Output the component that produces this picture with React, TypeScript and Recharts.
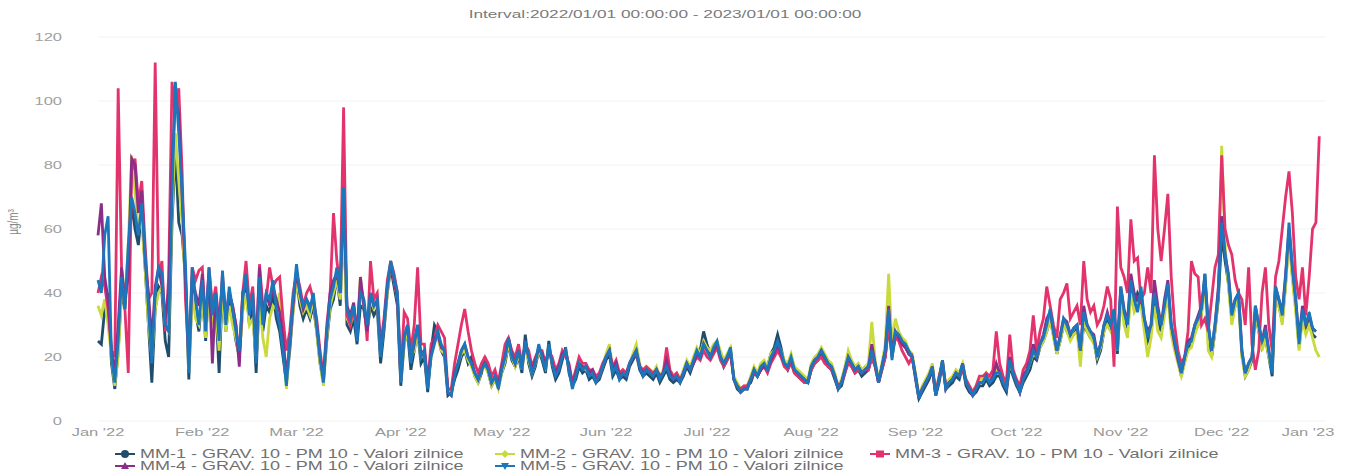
import React from 'react';
import { LineChart, Line, XAxis, YAxis, CartesianGrid } from 'recharts';

// PM10 daily averages, 2022, one value per day (index 0 = 1 Jan)
const TITLE = 'Interval:2022/01/01 00:00:00 - 2023/01/01 00:00:00';
const Y_TITLE = 'µg/m³';

const MONTH_TICKS = [0, 31, 59, 90, 120, 151, 181, 212, 243, 273, 304, 334, 365];
const MONTH_LABELS = ["Jan '22", "Feb '22", "Mar '22", "Apr '22", "May '22", "Jun '22", "Jul '22", "Aug '22", "Sep '22", "Oct '22", "Nov '22", "Dec '22", "Jan '23"];
const Y_TICKS = [0, 20, 40, 60, 80, 100, 120];

const MM1 = [
  25, 24, 35, 40, 18, 10, 22, 40, 35, 50, 68, 60, 55, 66, 48, 30, 12, 35, 42, 40, 25, 20, 62, 85, 62, 58, 45, 13, 42, 34, 28,
  40, 25, 44, 30, 36, 15, 42, 28, 38, 32, 25, 20, 35, 42, 30, 36, 15, 40, 28, 36, 34, 40, 32, 28, 20, 12, 22, 35,
  45, 36, 32, 35, 32, 36, 28, 18, 12, 25, 35, 38, 45, 36, 65, 30, 28, 32, 24, 36, 35, 28, 36, 33, 35, 18, 28, 40, 48, 42, 36,
  11, 24, 28, 16, 22, 28, 18, 20, 9, 22, 30, 28, 22, 20, 8, 9, 13, 16, 20, 22, 18, 20, 14, 12, 15, 20, 15, 11, 13, 11,
  15, 18, 24, 19, 17, 20, 15, 27, 18, 14, 17, 22, 19, 15, 25, 17, 13, 15, 19, 23, 15, 11, 13, 17, 15, 16, 13, 14, 12, 13, 16,
  19, 21, 14, 16, 13, 14, 13, 17, 19, 21, 16, 14, 15, 14, 13, 15, 12, 14, 16, 13, 12, 13, 12, 14, 17, 15, 18, 21, 22, 28,
  24, 21, 22, 24, 21, 17, 19, 22, 13, 10, 9, 10, 11, 12, 15, 14, 16, 18, 17, 21, 23, 27, 23, 18, 16, 19, 15, 14, 13, 12, 12,
  16, 18, 19, 21, 19, 17, 16, 13, 10, 11, 15, 19, 17, 15, 16, 14, 15, 16, 20, 17, 12, 16, 20, 30, 20, 26, 26, 24, 23, 21, 20,
  13, 7, 9, 11, 13, 16, 8, 12, 18, 10, 11, 12, 14, 13, 17, 11, 9, 8, 9, 11, 11, 13, 11, 12, 14, 14, 11, 9, 17, 14,
  11, 9, 12, 14, 16, 20, 19, 23, 25, 28, 32, 27, 21, 25, 30, 28, 26, 27, 29, 21, 30, 28, 26, 25, 19, 22, 28, 31, 29, 33, 21,
  40, 33, 29, 42, 36, 40, 38, 30, 25, 28, 38, 32, 28, 35, 40, 29, 24, 19, 14, 19, 23, 24, 28, 30, 34, 46, 28, 20, 28, 38,
  58, 50, 43, 32, 36, 38, 21, 14, 16, 19, 34, 28, 23, 26, 20, 14, 40, 36, 31, 43, 58, 46, 36, 23, 33, 28, 32, 27, 26, null, null,
];

const MM2 = [
  36, 33, 38, 30, 20, 11, 20, 40, 38, 55, 83, 72, 60, 62, 48, 30, 20, 35, 40, 42, 30, 28, 65, 90, 75, 62, 42, 16, 40, 32, 30,
  38, 26, 42, 30, 35, 22, 40, 28, 36, 30, 26, 20, 34, 40, 30, 32, 20, 38, 26, 20, 32, 36, 35, 40, 28, 10, 24, 34,
  44, 38, 34, 36, 33, 38, 28, 18, 11, 26, 36, 40, 44, 38, 60, 32, 30, 34, 28, 45, 36, 28, 38, 35, 36, 22, 30, 40, 50, 44, 38,
  13, 24, 28, 20, 22, 28, 20, 22, 11, 20, 25, 26, 22, 21, 10, 9, 15, 18, 21, 22, 19, 17, 14, 12, 16, 17, 15, 11, 13, 10,
  15, 19, 24, 20, 17, 21, 16, 23, 19, 15, 18, 22, 20, 17, 23, 18, 15, 17, 21, 22, 17, 11, 15, 18, 17, 16, 15, 16, 13, 14, 17,
  21, 24, 16, 18, 14, 16, 15, 18, 21, 24, 18, 15, 17, 16, 15, 17, 14, 16, 18, 15, 14, 15, 13, 16, 19, 17, 20, 23, 21, 25,
  23, 22, 24, 25, 22, 19, 21, 23, 14, 12, 10, 11, 11, 14, 17, 15, 18, 19, 17, 21, 22, 24, 22, 19, 18, 21, 17, 16, 15, 14, 13,
  18, 20, 21, 23, 21, 19, 18, 15, 11, 13, 17, 22, 19, 17, 18, 16, 17, 18, 31, 19, 13, 18, 24, 46, 24, 32, 28, 26, 25, 22, 21,
  15, 8, 11, 13, 15, 18, 9, 14, 19, 11, 13, 14, 16, 15, 18, 13, 11, 9, 11, 13, 13, 15, 13, 14, 16, 16, 13, 11, 18, 15,
  13, 10, 14, 15, 18, 21, 20, 23, 25, 28, 32, 26, 21, 25, 30, 28, 25, 27, 28, 17, 32, 28, 26, 24, 20, 23, 28, 30, 28, 32, 22,
  38, 30, 26, 40, 34, 36, 36, 28, 20, 26, 36, 28, 26, 33, 40, 27, 22, 18, 14, 18, 22, 23, 27, 30, 33, 44, 22, 20, 28, 40,
  86, 55, 42, 30, 36, 38, 20, 14, 16, 20, 34, 28, 22, 26, 20, 16, 38, 36, 30, 42, 58, 44, 34, 22, 32, 27, 30, 26, 22, 20, null,
];

const MM3 = [
  40, 45, 42, 35, 22, 20, 104, 48, 35, 15, 78, 82, 68, 75, 55, 38, 40, 112, 45, 50, 28, 45, 106, 96, 104, 78, 38, 20, 48, 44, 47,
  48, 30, 48, 36, 42, 28, 46, 32, 40, 36, 30, 20, 40, 50, 36, 42, 22, 49, 36, 38, 48, 42, 44, 45, 32, 22, 28, 40,
  46, 42, 36, 40, 42, 38, 32, 22, 14, 30, 40, 65, 50, 42, 98, 33, 30, 36, 28, 42, 38, 25, 50, 38, 40, 24, 32, 44, 50, 46, 40,
  14, 34, 32, 22, 30, 48, 24, 24, 12, 24, 26, 30, 28, 26, 10, 10, 18, 24, 30, 35, 28, 22, 18, 15, 18, 20, 18, 14, 16, 12,
  18, 24, 26, 22, 20, 24, 18, 24, 22, 17, 20, 22, 22, 18, 22, 20, 16, 18, 22, 20, 18, 12, 16, 20, 18, 18, 16, 16, 14, 15, 18,
  20, 22, 17, 19, 15, 16, 15, 18, 20, 21, 17, 16, 17, 16, 15, 16, 14, 15, 23, 16, 14, 15, 13, 15, 18, 16, 18, 20, 19, 22,
  20, 19, 21, 23, 19, 17, 19, 21, 13, 11, 10, 11, 11, 13, 15, 14, 16, 17, 15, 18, 20, 22, 20, 17, 16, 18, 15, 14, 13, 12, 12,
  16, 18, 19, 20, 18, 17, 16, 14, 11, 12, 15, 18, 17, 15, 16, 15, 16, 16, 20, 17, 12, 16, 20, 30, 22, 26, 25, 22, 20, 18, 20,
  14, 8, 10, 12, 14, 16, 9, 14, 18, 11, 12, 13, 15, 14, 16, 13, 11, 9, 11, 14, 14, 15, 14, 16, 28, 18, 14, 12, 27, 16,
  13, 11, 16, 18, 22, 33, 22, 28, 32, 42, 36, 30, 26, 38, 40, 43, 32, 34, 36, 30, 50, 38, 34, 36, 30, 32, 36, 42, 38, 17, 67,
  48, 45, 40, 63, 50, 51, 38, 40, 48, 40, 83, 60, 50, 60, 71, 45, 30, 22, 18, 20, 28, 50, 46, 45, 30, 32, 28, 38, 48, 52,
  83, 60, 55, 52, 44, 40, 38, 30, 48, 24, 16, 22, 40, 48, 30, 22, 45, 50, 60, 70, 78, 65, 45, 38, 48, 33, 45, 60, 62, 89, null,
];

const MM4 = [
  58, 68, 45, 38, 22, 15, 30, 48, 38, 45, 82, 80, 65, 72, 50, 40, 25, 42, 48, 42, 32, 40, 80, 100, 96, 70, 45, 18, 45, 40, 36,
  46, 30, 46, 18, 40, 30, 44, 32, 40, 36, 30, 17, 40, 44, 34, 38, 22, 48, 32, 40, 36, 42, 38, 34, 26, 14, 24, 36,
  47, 40, 35, 38, 36, 38, 30, 20, 13, 28, 40, 44, 46, 40, 70, 36, 33, 37, 26, 45, 36, 28, 40, 36, 37, 22, 30, 42, 49, 44, 38,
  13, 26, 30, 19, 24, 30, 21, 22, 11, 21, 26, 27, 23, 22, 9, 8, 15, 18, 22, 24, 20, 18, 15, 13, 16, 18, 16, 12, 14, 11,
  17, 20, 26, 21, 18, 22, 17, 24, 20, 16, 19, 23, 21, 17, 23, 18, 15, 17, 21, 22, 17, 11, 15, 18, 17, 17, 15, 16, 13, 14, 17,
  20, 22, 16, 18, 14, 15, 14, 18, 20, 22, 17, 15, 16, 15, 14, 16, 14, 15, 19, 15, 13, 14, 12, 15, 18, 16, 18, 21, 20, 24,
  22, 20, 22, 24, 20, 18, 20, 22, 13, 11, 9, 10, 10, 13, 16, 14, 16, 17, 16, 19, 21, 24, 21, 18, 17, 19, 16, 15, 14, 13, 12,
  17, 19, 20, 22, 20, 18, 17, 14, 10, 12, 16, 20, 18, 16, 17, 15, 16, 17, 24, 18, 12, 17, 22, 36, 21, 28, 26, 24, 23, 21, 20,
  14, 7, 10, 12, 14, 17, 8, 13, 19, 10, 12, 13, 15, 14, 18, 12, 10, 8, 10, 12, 12, 14, 12, 14, 18, 15, 12, 10, 20, 15,
  12, 9, 14, 16, 19, 24, 20, 24, 27, 32, 34, 28, 22, 27, 32, 31, 27, 29, 30, 22, 36, 30, 28, 27, 21, 24, 30, 34, 30, 34, 24,
  42, 35, 31, 46, 40, 38, 40, 32, 28, 30, 44, 36, 30, 38, 44, 30, 24, 19, 15, 20, 25, 26, 30, 33, 36, 44, 30, 22, 30, 42,
  64, 52, 46, 34, 38, 40, 22, 15, 18, 20, 36, 30, 25, 30, 22, 16, 42, 38, 34, 46, 60, 48, 38, 26, 36, 30, 33, 29, 28, null, null,
];

const MM5 = [
  44, 40, 58, 64, 20, 12, 25, 45, 35, 55, 70, 65, 58, 68, 52, 35, 18, 40, 48, 46, 30, 28, 70, 106, 90, 72, 49, 15, 48, 38, 30,
  44, 28, 48, 33, 40, 25, 47, 30, 42, 35, 28, 22, 38, 46, 33, 40, 18, 45, 30, 40, 38, 44, 35, 30, 22, 11, 25, 38,
  49, 40, 36, 38, 35, 40, 30, 20, 12, 28, 38, 42, 48, 40, 73, 35, 32, 36, 25, 40, 38, 30, 40, 36, 38, 20, 30, 42, 50, 45, 40,
  12, 26, 30, 18, 25, 30, 20, 22, 10, 20, 24, 28, 24, 22, 9, 8, 14, 18, 22, 24, 20, 18, 15, 13, 16, 18, 16, 12, 14, 10,
  16, 20, 26, 20, 18, 22, 16, 25, 20, 15, 18, 24, 20, 16, 24, 18, 14, 16, 20, 22, 16, 10, 14, 18, 16, 17, 14, 15, 12, 14, 17,
  20, 22, 15, 17, 13, 15, 14, 18, 20, 22, 17, 14, 16, 15, 14, 16, 13, 15, 17, 14, 13, 14, 12, 15, 18, 16, 19, 22, 20, 24,
  22, 20, 23, 25, 20, 18, 20, 23, 13, 11, 9, 10, 10, 13, 16, 14, 17, 18, 16, 20, 22, 25, 22, 18, 17, 20, 16, 15, 14, 13, 12,
  17, 19, 20, 22, 20, 18, 17, 14, 10, 12, 16, 20, 18, 16, 17, 15, 16, 17, 22, 18, 12, 17, 22, 35, 19, 28, 27, 25, 24, 22, 20,
  14, 7, 10, 12, 14, 17, 8, 13, 19, 10, 12, 13, 15, 14, 18, 12, 10, 8, 10, 12, 12, 14, 12, 13, 15, 15, 12, 10, 19, 15,
  12, 9, 13, 15, 18, 22, 20, 24, 26, 30, 35, 28, 22, 26, 32, 30, 27, 29, 30, 22, 34, 30, 28, 26, 20, 24, 30, 33, 30, 35, 22,
  42, 34, 30, 44, 38, 34, 42, 32, 26, 30, 40, 34, 30, 36, 43, 30, 25, 20, 15, 20, 24, 25, 30, 32, 35, 46, 30, 22, 30, 40,
  62, 52, 45, 33, 38, 40, 22, 15, 18, 20, 36, 30, 25, 28, 22, 15, 42, 38, 33, 45, 62, 48, 38, 24, 35, 30, 34, 29, 28, null, null,
];

const SERIES = [
  { key: 'mm1', values: MM1, name: 'MM-1 - GRAV. 10 - PM 10 - Valori zilnice', color: '#1f4d6b', symbol: 'circle' },
  { key: 'mm2', values: MM2, name: 'MM-2 - GRAV. 10 - PM 10 - Valori zilnice', color: '#c9da3c', symbol: 'diamond' },
  { key: 'mm3', values: MM3, name: 'MM-3 - GRAV. 10 - PM 10 - Valori zilnice', color: '#e3336c', symbol: 'square' },
  { key: 'mm4', values: MM4, name: 'MM-4 - GRAV. 10 - PM 10 - Valori zilnice', color: '#8c2e88', symbol: 'triangle' },
  { key: 'mm5', values: MM5, name: 'MM-5 - GRAV. 10 - PM 10 - Valori zilnice', color: '#1c76bb', symbol: 'triangle-down' },
];

const data = MM5.map((_, i) => {
  const row: Record<string, number | null> = { t: i };
  SERIES.forEach(s => { row[s.key] = s.values[i] ?? null; });
  return row;
});

const FONT = '"Liberation Sans", Arial, Helvetica, sans-serif';
const SX = 1.5; // the original export is stretched sideways

const XTick = (props: any) => {
  const { x, y, payload } = props;
  const idx = MONTH_TICKS.indexOf(payload.value);
  const shift = payload.value === 365 ? -18 : 0;
  return (
    <g transform={`translate(${x + shift},${y})`}>
      <text transform={`scale(${SX},1)`} textAnchor="middle" dy={7} fontSize={11} fill="#999" fontFamily={FONT}>
        {MONTH_LABELS[idx]}
      </text>
    </g>
  );
};

const YTick = (props: any) => {
  const { x, y, payload } = props;
  return (
    <g transform={`translate(${x},${y})`}>
      <text transform={`scale(${SX},1)`} textAnchor="end" dy={4} fontSize={11} fill="#a0a0a0" fontFamily={FONT}>
        {payload.value}
      </text>
    </g>
  );
};

const Marker = ({ symbol, color, cx, cy }: { symbol: string; color: string; cx: number; cy: number }) => {
  if (symbol === 'circle') return <circle cx={cx} cy={cy} r={4} fill={color} />;
  if (symbol === 'diamond') return <path d={`M${cx},${cy - 4}L${cx + 4},${cy}L${cx},${cy + 4}L${cx - 4},${cy}Z`} fill={color} />;
  if (symbol === 'square') return <rect x={cx - 4} y={cy - 3.5} width={8} height={7} fill={color} />;
  if (symbol === 'triangle') return <path d={`M${cx},${cy - 4}L${cx + 4},${cy + 3}L${cx - 4},${cy + 3}Z`} fill={color} />;
  return <path d={`M${cx - 4},${cy - 3}L${cx + 4},${cy - 3}L${cx},${cy + 4}Z`} fill={color} />;
};

const LEGEND_POS = [
  [115, 454], [495, 454], [870, 454], [115, 466], [495, 466],
];

export default function App() {
  return (
    <div style={{ position: 'relative', width: 1348, height: 476, background: '#fff' }}>
      <style>{`body{margin:0}`}</style>
      <LineChart width={1348} height={476} data={data} margin={{ top: 37, right: 22, left: 0, bottom: 25 }}>
        <CartesianGrid horizontal vertical={false} stroke="#f3f3f3" />
        <XAxis
          dataKey="t"
          type="number"
          domain={[0, 365]}
          ticks={MONTH_TICKS}
          interval={0}
          tick={<XTick />}
          tickSize={6}
          tickMargin={2}
          axisLine={false}
          tickLine={false}
          height={30}
        />
        <YAxis
          domain={[0, 120]}
          ticks={Y_TICKS}
          interval={0}
          tick={<YTick />}
          tickMargin={30}
          axisLine={false}
          tickLine={false}
          width={98}
        />
        {SERIES.map(s => (
          <Line
            key={s.key}
            dataKey={s.key}
            name={s.name}
            type="linear"
            stroke={s.color}
            strokeWidth={2.8}
            dot={false}
            activeDot={false}
            isAnimationActive={false}
          />
        ))}
      </LineChart>
      <svg width={1348} height={476} style={{ position: 'absolute', left: 0, top: 0, pointerEvents: 'none' }}>
        <text transform={`translate(665,18) scale(${SX},1)`} textAnchor="middle" fontSize={11.5} fill="#7a7a7a" fontFamily={FONT}>
          {TITLE}
        </text>
        <text transform={`translate(18,222) scale(${SX},1) rotate(-90)`} textAnchor="middle" fontSize={10} fill="#888" fontFamily={FONT}>
          {Y_TITLE}
        </text>
        {SERIES.map((s, i) => {
          const [lx, ly] = LEGEND_POS[i];
          return (
            <g key={s.key}>
              <line x1={lx} y1={ly} x2={lx + 20} y2={ly} stroke={s.color} strokeWidth={2} />
              <Marker symbol={s.symbol} color={s.color} cx={lx + 10} cy={ly} />
              <text transform={`translate(${lx + 25},${ly + 4}) scale(${SX},1)`} fontSize={12} fill="#707070" fontFamily={FONT}>
                {s.name}
              </text>
            </g>
          );
        })}
      </svg>
    </div>
  );
}
